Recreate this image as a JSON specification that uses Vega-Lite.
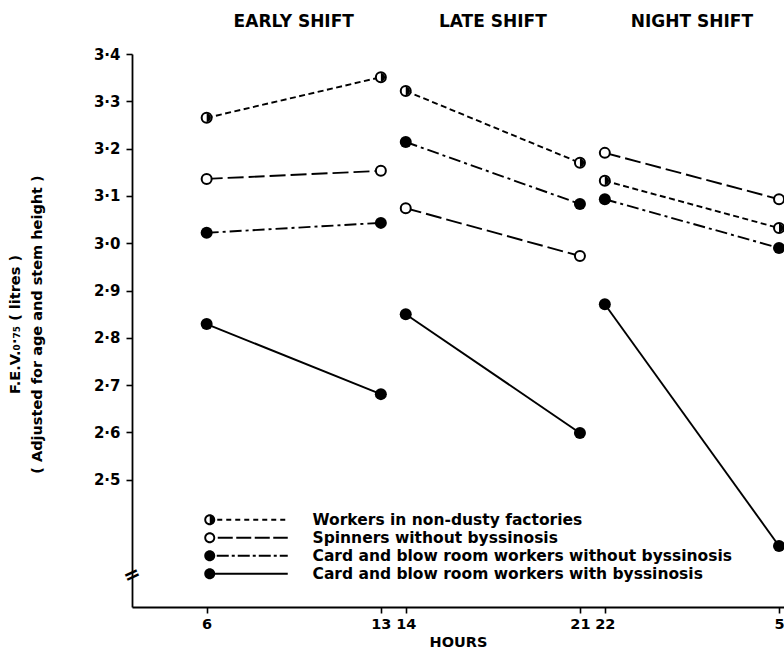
{
  "$schema": "https://vega.github.io/schema/vega-lite/v6.json",
  "autosize": "none",
  "width": 652,
  "height": 553,
  "padding": {"left": 132, "top": 54, "right": 0, "bottom": 44},
  "background": "white",
  "config": {
    "view": {"stroke": null},
    "font": "DejaVu Sans",
    "axis": {
      "domainColor": "black", "domainWidth": 1.8, "tickColor": "black", "tickWidth": 1.6, "tickSize": 6,
      "labelColor": "black", "labelFont": "DejaVu Sans", "labelFontWeight": "bold", "labelFontSize": 14,
      "titleColor": "black", "titleFont": "DejaVu Sans", "titleFontWeight": "bold", "grid": false
    }
  },
  "data": {
    "values": [
      {"series": "Workers in non-dusty factories", "shift": "EARLY SHIFT", "hour": 6, "fev": 3.265},
      {"series": "Workers in non-dusty factories", "shift": "EARLY SHIFT", "hour": 13, "fev": 3.351},
      {"series": "Spinners without byssinosis", "shift": "EARLY SHIFT", "hour": 6, "fev": 3.136},
      {"series": "Spinners without byssinosis", "shift": "EARLY SHIFT", "hour": 13, "fev": 3.153},
      {"series": "Card and blow room workers without byssinosis", "shift": "EARLY SHIFT", "hour": 6, "fev": 3.022},
      {"series": "Card and blow room workers without byssinosis", "shift": "EARLY SHIFT", "hour": 13, "fev": 3.043},
      {"series": "Card and blow room workers with byssinosis", "shift": "EARLY SHIFT", "hour": 6, "fev": 2.829},
      {"series": "Card and blow room workers with byssinosis", "shift": "EARLY SHIFT", "hour": 13, "fev": 2.681},
      {"series": "Workers in non-dusty factories", "shift": "LATE SHIFT", "hour": 14, "fev": 3.322},
      {"series": "Workers in non-dusty factories", "shift": "LATE SHIFT", "hour": 21, "fev": 3.17},
      {"series": "Spinners without byssinosis", "shift": "LATE SHIFT", "hour": 14, "fev": 3.074},
      {"series": "Spinners without byssinosis", "shift": "LATE SHIFT", "hour": 21, "fev": 2.973},
      {"series": "Card and blow room workers without byssinosis", "shift": "LATE SHIFT", "hour": 14, "fev": 3.214},
      {"series": "Card and blow room workers without byssinosis", "shift": "LATE SHIFT", "hour": 21, "fev": 3.083},
      {"series": "Card and blow room workers with byssinosis", "shift": "LATE SHIFT", "hour": 14, "fev": 2.85},
      {"series": "Card and blow room workers with byssinosis", "shift": "LATE SHIFT", "hour": 21, "fev": 2.599},
      {"series": "Workers in non-dusty factories", "shift": "NIGHT SHIFT", "hour": 22, "fev": 3.132},
      {"series": "Workers in non-dusty factories", "shift": "NIGHT SHIFT", "hour": 29, "fev": 3.032},
      {"series": "Spinners without byssinosis", "shift": "NIGHT SHIFT", "hour": 22, "fev": 3.191},
      {"series": "Spinners without byssinosis", "shift": "NIGHT SHIFT", "hour": 29, "fev": 3.093},
      {"series": "Card and blow room workers without byssinosis", "shift": "NIGHT SHIFT", "hour": 22, "fev": 3.093},
      {"series": "Card and blow room workers without byssinosis", "shift": "NIGHT SHIFT", "hour": 29, "fev": 2.99},
      {"series": "Card and blow room workers with byssinosis", "shift": "NIGHT SHIFT", "hour": 22, "fev": 2.871},
      {"series": "Card and blow room workers with byssinosis", "shift": "NIGHT SHIFT", "hour": 29, "fev": 2.36}
    ]
  },
  "layer": [
    {
      "encoding": {
        "x": {
          "field": "hour", "type": "quantitative", "title": "HOURS",
          "scale": {"domain": [3, 29.2], "nice": false, "zero": false},
          "axis": {
            "values": [6, 13, 14, 21, 22, 29],
            "labelExpr": "'' + (datum.value > 24 ? datum.value - 24 : datum.value)",
            "labelOverlap": false, "labelFlush": false, "labelPadding": 4, "labelFontSize": 14.5,
            "titleFontSize": 14.5, "titlePadding": 5
          }
        },
        "y": {
          "field": "fev", "type": "quantitative",
          "title": ["F.E.V.₀·₇₅ ( litres )", "( Adjusted for age and stem height )"],
          "scale": {"domain": [2.231, 3.4], "nice": false, "zero": false},
          "axis": {
            "values": [2.5, 2.6, 2.7, 2.8, 2.9, 3.0, 3.1, 3.2, 3.3, 3.4],
            "labelExpr": "replace(format(datum.value, '.1f'), '.', '·')",
            "labelPadding": 6, "labelFontSize": 15,
            "titleFontSize": 14.5, "titleAngle": -90, "titleX": -124, "titleY": 270,
            "titleAlign": "center", "titleBaseline": "top", "titleLineHeight": 22
          }
        },
        "detail": {"field": "shift"}
      },
      "layer": [
        {
          "transform": [{"filter": "datum.series == 'Workers in non-dusty factories'"}],
          "mark": {"type": "line", "color": "black", "strokeWidth": 1.9, "strokeDash": [6, 3.5]}
        },
        {
          "transform": [{"filter": "datum.series == 'Spinners without byssinosis'"}],
          "mark": {"type": "line", "color": "black", "strokeWidth": 1.9, "strokeDash": [16, 5]}
        },
        {
          "transform": [{"filter": "datum.series == 'Card and blow room workers without byssinosis'"}],
          "mark": {"type": "line", "color": "black", "strokeWidth": 1.9, "strokeDash": [12, 4, 3, 4]}
        },
        {
          "transform": [{"filter": "datum.series == 'Card and blow room workers with byssinosis'"}],
          "mark": {"type": "line", "color": "black", "strokeWidth": 1.9}
        },
        {
          "transform": [{"filter": "indexof(datum.series, 'Card') == 0"}],
          "mark": {"type": "point", "shape": "circle", "filled": true, "color": "black", "size": 144, "opacity": 1}
        },
        {
          "transform": [{"filter": "indexof(datum.series, 'Card') != 0"}],
          "mark": {"type": "point", "shape": "circle", "filled": false, "fill": "white", "stroke": "black", "strokeWidth": 2, "size": 100, "opacity": 1, "fillOpacity": 1}
        },
        {
          "transform": [{"filter": "datum.series == 'Workers in non-dusty factories'"}],
          "mark": {"type": "point", "shape": "M0,-1A1,1,0,0,1,0,1Z", "filled": true, "color": "black", "size": 72, "opacity": 1}
        }
      ]
    },
    {
      "transform": [{"aggregate": [{"op": "mean", "field": "hour", "as": "mid"}], "groupby": ["shift"]}],
      "mark": {"type": "text", "fontSize": 17, "fontWeight": "bold", "font": "DejaVu Sans", "color": "black", "baseline": "middle", "align": "center", "clip": false},
      "encoding": {
        "x": {"field": "mid", "type": "quantitative"},
        "text": {"field": "shift", "type": "nominal"},
        "y": {"datum": 3.468}
      }
    },
    {
      "transform": [{"aggregate": [{"op": "count", "as": "n"}]}],
      "mark": {"type": "text", "text": "=", "angle": -25, "fontSize": 20, "fontWeight": "bold", "color": "black", "baseline": "middle", "align": "center"},
      "encoding": {
        "x": {"datum": 3},
        "y": {"datum": 2.298}
      }
    },
    {
      "mark": {"type": "point", "filled": true, "color": "black", "size": 100, "strokeWidth": 0, "opacity": 0},
      "encoding": {
        "shape": {
          "field": "series", "type": "nominal",
          "scale": {
            "domain": ["Workers in non-dusty factories", "Spinners without byssinosis", "Card and blow room workers without byssinosis", "Card and blow room workers with byssinosis"],
            "range": [
              "M-1.1,0A1.1,1.1,0,1,1,1.1,0A1.1,1.1,0,1,1,-1.1,0ZM-0.72,0A0.72,0.72,0,1,0,0.72,0A0.72,0.72,0,1,0,-0.72,0ZM0,-0.72A0.72,0.72,0,0,1,0,0.72ZM1.5,-0.2H2.5V0.2H1.5ZM3.3,-0.2H4.3V0.2H3.3ZM5.1,-0.2H6.1V0.2H5.1ZM6.9,-0.2H7.9V0.2H6.9ZM8.7,-0.2H9.7V0.2H8.7ZM10.5,-0.2H11.5V0.2H10.5ZM12.3,-0.2H13.3V0.2H12.3ZM14.1,-0.2H15.1V0.2H14.1Z",
              "M-1.1,0A1.1,1.1,0,1,1,1.1,0A1.1,1.1,0,1,1,-1.1,0ZM-0.72,0A0.72,0.72,0,1,0,0.72,0A0.72,0.72,0,1,0,-0.72,0ZM1.6,-0.2H4.6V0.2H1.6ZM5.3,-0.2H8.3V0.2H5.3ZM9.0,-0.2H12.0V0.2H9.0ZM12.7,-0.2H15.6V0.2H12.7Z",
              "M-1.1,0A1.1,1.1,0,1,1,1.1,0A1.1,1.1,0,1,1,-1.1,0ZM1.4,-0.2H3.8V0.2H1.4ZM4.4,-0.2H5.0V0.2H4.4ZM5.6,-0.2H8.0V0.2H5.6ZM8.6,-0.2H9.2V0.2H8.6ZM9.8,-0.2H12.2V0.2H9.8ZM12.8,-0.2H13.4V0.2H12.8ZM14.0,-0.2H15.6V0.2H14.0Z",
              "M-1.1,0A1.1,1.1,0,1,1,1.1,0A1.1,1.1,0,1,1,-1.1,0ZM1.0,-0.2H15.6V0.2H1.0Z"
            ]
          },
          "legend": {
            "title": null, "orient": "none", "legendX": 70, "legendY": 458, "direction": "vertical",
            "padding": 0, "labelOffset": 95, "labelFontSize": 15.5, "labelFont": "DejaVu Sans", "labelFontWeight": "bold",
            "labelColor": "black", "labelLimit": 700, "symbolSize": 100, "symbolFillColor": "black", "symbolStrokeWidth": 0,
            "symbolOpacity": 1, "rowPadding": 1
          }
        }
      }
    }
  ]
}
